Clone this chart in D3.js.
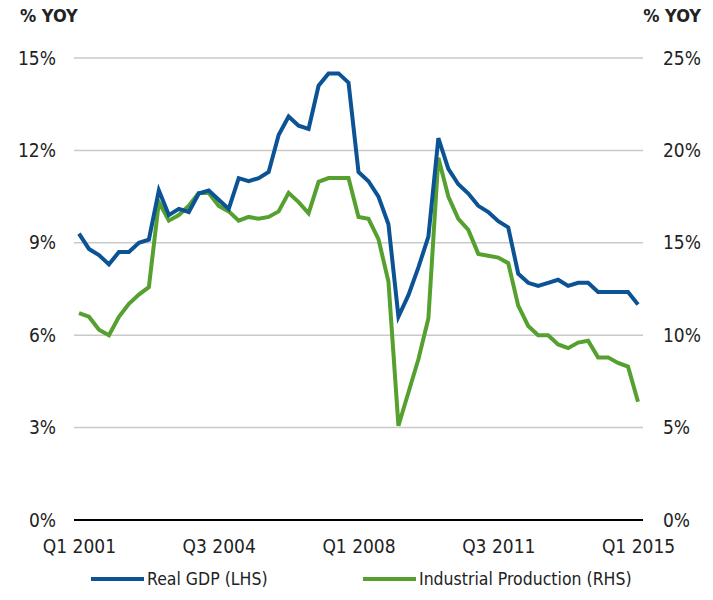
<!DOCTYPE html>
<html>
<head>
<meta charset="utf-8">
<script src="https://cdn.jsdelivr.net/npm/d3@7"></script>
<style>
  body { margin: 0; background: #fff; }
  svg text { font-family: 'Liberation Sans Narrow', 'Arial Narrow', 'DejaVu Sans Condensed', sans-serif; fill: #222; }
</style>
</head>
<body>
<div class="chart"></div>
<script>
// quarters Q1 2001 .. Q1 2015
const quarters = [];
for (let y = 2001; y <= 2015; y++) {
    for (let q = 1; q <= 4; q++) {
        if (y == 2015 && q > 1) break;
        quarters.push('Q' + q + ' ' + y);
    }
}

// Real GDP, % yoy (left axis)
const gdp = [9.3, 8.8, 8.6, 8.3, 8.7, 8.7, 9.0, 9.1, 10.7, 9.9,
    10.1, 10.0, 10.6, 10.7, 10.4, 10.1, 11.1, 11.0, 11.1, 11.3,
    12.5, 13.1, 12.8, 12.7, 14.1, 14.5, 14.5, 14.2, 11.3, 11.0,
    10.5, 9.6, 6.6, 7.3, 8.2, 9.2, 12.4, 11.4, 10.9, 10.6,
    10.2, 10.0, 9.7, 9.5, 8.0, 7.7, 7.6, 7.7, 7.8, 7.6,
    7.7, 7.7, 7.4, 7.4, 7.4, 7.4, 7.0];

// Industrial production, % yoy (right axis)
const indProd = [11.2, 11.0, 10.3, 10.0, 11.0, 11.7, 12.2, 12.6, 17.2, 16.2,
    16.5, 17.0, 17.7, 17.7, 17.0, 16.7, 16.2, 16.4, 16.3, 16.4,
    16.7, 17.7, 17.2, 16.6, 18.3, 18.5, 18.5, 18.5, 16.4, 16.3,
    15.2, 12.9, 5.1, 6.9, 8.7, 10.9, 19.6, 17.5, 16.3, 15.7,
    14.4, 14.3, 14.2, 13.9, 11.6, 10.5, 10.0, 10.0, 9.5, 9.3,
    9.6, 9.7, 8.8, 8.8, 8.5, 8.3, 6.4];

const leftTicks = [0, 3, 6, 9, 12, 15];
const rightTicks = [0, 5, 10, 15, 20, 25];
const xLabels = ['Q1 2001', 'Q3 2004', 'Q1 2008', 'Q3 2011', 'Q1 2015'];

const width = 713, height = 600;
const plot = { left: 74, right: 643, top: 58, bottom: 520 };
const blue = '#0b5394', green = '#55a02f';

const svg = d3.select('div.chart')
    .append('svg')
    .attr('width', width)
    .attr('height', height);

const x = d3.scalePoint()
    .domain(quarters)
    .range([plot.left, plot.right])
    .padding(0.5);

const yL = d3.scaleLinear().domain([0, 15]).range([plot.bottom, plot.top]);
const yR = d3.scaleLinear().domain([0, 25]).range([plot.bottom, plot.top]);

// gridlines
svg.append('g')
    .selectAll('line')
    .data(leftTicks.slice(1))
    .enter()
    .append('line')
    .attr('x1', plot.left).attr('x2', plot.right)
    .attr('y1', d => yL(d)).attr('y2', d => yL(d))
    .attr('stroke', '#c9c9c9')
    .attr('stroke-width', 1.5);

// left axis labels
const leftAxis = d3.axisLeft(yL).tickValues(leftTicks).tickSize(0).tickPadding(18).tickFormat(d => d + '%');
svg.append('g')
    .attr('transform', 'translate(' + plot.left + ',0)')
    .call(leftAxis)
    .call(g => g.select('.domain').remove())
    .selectAll('text').style('font-size', '19px');

const rightAxis = d3.axisRight(yR).tickValues(rightTicks).tickSize(0).tickPadding(20).tickFormat(d => d + '%');
svg.append('g')
    .attr('transform', 'translate(' + plot.right + ',0)')
    .call(rightAxis)
    .call(g => g.select('.domain').remove())
    .selectAll('text').style('font-size', '19px');

// x axis
const xAxis = d3.axisBottom(x)
    .tickValues(xLabels)
    .tickSize(0)
    .tickPadding(20);
svg.append('g')
    .attr('transform', 'translate(0,' + plot.bottom + ')')
    .call(xAxis)
    .call(g => g.select('.domain').remove())
    .selectAll('text').style('font-size', '19px');

svg.append('line')
    .attr('x1', plot.left).attr('x2', plot.right)
    .attr('y1', plot.bottom).attr('y2', plot.bottom)
    .attr('stroke', '#000')
    .attr('stroke-width', 2);

// axis titles
svg.append('text').attr('x', 20).attr('y', 22)
    .style('font-size', '18px').style('font-weight', 'bold').text('% YOY');
svg.append('text').attr('x', 701).attr('y', 22).attr('text-anchor', 'end')
    .style('font-size', '18px').style('font-weight', 'bold').text('% YOY');

// lines
const lineL = d3.line().x((d, i) => x(quarters[i])).y(d => yL(d));
const lineR = d3.line().x((d, i) => x(quarters[i])).y(d => yR(d));

svg.append('path')
    .datum(indProd)
    .attr('d', lineR)
    .attr('fill', 'none')
    .attr('stroke', green)
    .attr('stroke-width', 4);

svg.append('path')
    .datum(gdp)
    .attr('d', lineL)
    .attr('fill', 'none')
    .attr('stroke', blue)
    .attr('stroke-width', 4);

// legend
const legend = [
    { name: 'Real GDP (LHS)', color: blue, x: 91 },
    { name: 'Industrial Production (RHS)', color: green, x: 363 }
];
const lg = svg.append('g').selectAll('g').data(legend).enter().append('g')
    .attr('transform', d => 'translate(' + d.x + ',579)');
lg.append('line').attr('x1', 0).attr('x2', 53).attr('y1', 0).attr('y2', 0)
    .attr('stroke', d => d.color).attr('stroke-width', 4);
lg.append('text').attr('x', 56).attr('y', 6)
    .style('font-size', '17.5px').text(d => d.name);
</script>
</body>
</html>
